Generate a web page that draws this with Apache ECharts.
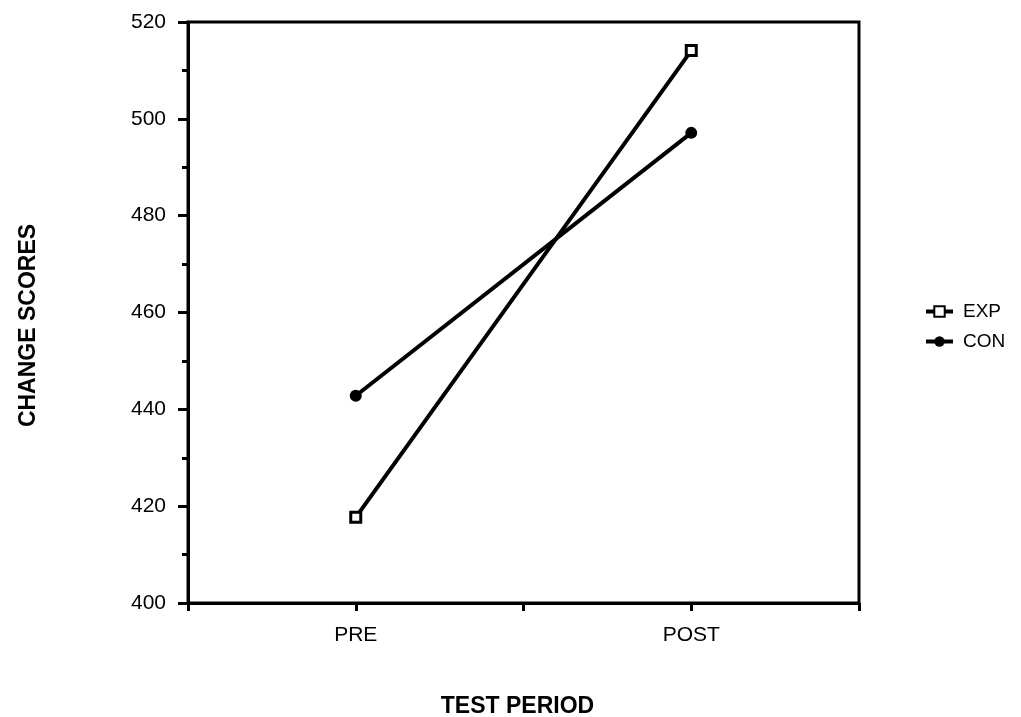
<!DOCTYPE html>
<html>
<head>
<meta charset="utf-8">
<script src="https://cdn.jsdelivr.net/npm/echarts@6/dist/echarts.min.js"></script>
<style>
  html, body { margin: 0; padding: 0; background: #fff; }
  #main { width: 1021px; height: 717px; }
</style>
</head>
<body>
<div id="main"></div>
<script>
// test periods on the x axis
var categories = ['PRE', 'POST'];
// change scores
var expScores = [417.7, 514.1];
var conScores = [442.8, 497.1];
var yTicks = [400, 420, 440, 460, 480, 500, 520];

// put each category at an odd slot of a 0..4 value axis
function toPoints(values) {
    return values.map(function (v, i) { return [2 * i + 1, v]; });
}

var myChart = echarts.init(document.getElementById('main'));
var font = 'Liberation Sans, Arial, Helvetica, sans-serif';

myChart.setOption({
    animation: false,
    backgroundColor: '#fff',
    textStyle: { fontFamily: font, color: '#000' },
    grid: {
        left: 188,
        right: 162,
        top: 22,
        bottom: 114,
        outerBoundsMode: 'none',
        containLabel: false,
        show: true,
        borderColor: '#000',
        borderWidth: 3
    },
    legend: {
        orient: 'vertical',
        left: 919,
        top: 297,
        itemWidth: 27,
        itemHeight: 13,
        itemGap: 11,
        lineStyle: { width: 4, color: '#000' },
        textStyle: { fontFamily: font, fontSize: 19, color: '#000', padding: [0, 0, 0, 5] },
        data: ['EXP', 'CON']
    },
    xAxis: {
        type: 'value',
        min: 0,
        max: 4,
        interval: 1,
        name: 'TEST PERIOD',
        nameLocation: 'middle',
        nameGap: 92,
        nameTextStyle: { fontFamily: font, fontSize: 23, fontWeight: 'bold', color: '#000', padding: [0, 12, 0, 0] },
        axisLine: { lineStyle: { color: '#000', width: 3 } },
        axisTick: { show: true, length: 8, lineStyle: { color: '#000', width: 3 } },
        axisLabel: {
            fontFamily: font,
            fontSize: 21,
            color: '#000',
            margin: 22,
            formatter: function (v) {
                return v % 2 === 1 ? categories[(v - 1) / 2] : '';
            }
        },
        splitLine: { show: false }
    },
    yAxis: {
        type: 'value',
        min: yTicks[0],
        max: yTicks[yTicks.length - 1],
        interval: yTicks[1] - yTicks[0],
        name: 'CHANGE SCORES',
        nameLocation: 'middle',
        nameRotate: 90,
        nameGap: 148,
        nameTextStyle: { fontFamily: font, fontSize: 23, fontWeight: 'bold', color: '#000', padding: [0, 26, 0, 0] },
        axisLine: { show: true, lineStyle: { color: '#000', width: 3 } },
        axisTick: { show: true, length: 10, lineStyle: { color: '#000', width: 3 } },
        minorTick: { show: true, splitNumber: 2, length: 6, lineStyle: { color: '#000', width: 3 } },
        axisLabel: { fontFamily: font, fontSize: 21, color: '#000', margin: 22 },
        splitLine: { show: false }
    },
    series: [
        {
            name: 'EXP',
            type: 'line',
            data: toPoints(expScores),
            symbol: 'rect',
            symbolSize: 10,
            lineStyle: { color: '#000', width: 4 },
            itemStyle: { color: '#fff', borderColor: '#000', borderWidth: 3 }
        },
        {
            name: 'CON',
            type: 'line',
            data: toPoints(conScores),
            symbol: 'circle',
            symbolSize: 12,
            lineStyle: { color: '#000', width: 4 },
            itemStyle: { color: '#000', borderColor: '#000', borderWidth: 0 }
        }
    ]
});
</script>
</body>
</html>
